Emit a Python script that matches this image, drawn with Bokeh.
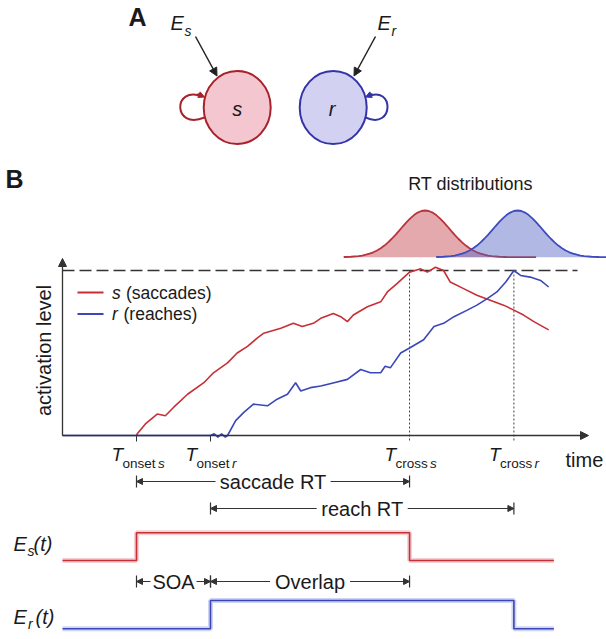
from bokeh.plotting import figure
from bokeh.models import Range1d, Arrow, NormalHead
from bokeh.core.properties import value
from bokeh.embed import file_html
from bokeh.resources import INLINE
import math

# ---------------- data (times in ms, activation in threshold units) ----------------
T_ONSET_S = 100
T_ONSET_R = 200
T_CROSS_S = 469
T_CROSS_R = 610
THRESHOLD = 1.0

sacc_t = [100, 101, 112, 128, 139, 150, 169, 191, 204, 223, 236, 250, 263, 272, 295, 312, 324, 339, 349, 366,
          376, 385, 393, 412, 430, 439, 452, 469, 484, 493, 504, 515, 524, 542, 560, 578, 596, 610, 623, 637, 657]
sacc_a = [0, 0.01, 0.07, 0.13, 0.12, 0.17, 0.25, 0.32, 0.38, 0.44, 0.50, 0.54, 0.59, 0.62, 0.65, 0.68, 0.66, 0.68, 0.71, 0.74,
          0.72, 0.69, 0.73, 0.78, 0.81, 0.87, 0.92, 0.99, 1.01, 0.99, 1.02, 1.00, 0.93, 0.89, 0.85, 0.82, 0.79, 0.76, 0.73, 0.69, 0.64]

reach_t = [0, 200, 205, 210, 215, 220, 223, 234, 245, 258, 277, 290, 304, 315, 322, 335, 349, 367, 385, 403,
           416, 430, 436, 443, 457, 469, 488, 502, 515, 529, 547, 560, 574, 587, 599, 610, 619, 632, 646, 657]
reach_a = [0, 0, 0.01, -0.01, 0.01, -0.01, 0, 0.09, 0.14, 0.19, 0.18, 0.22, 0.25, 0.32, 0.27, 0.29, 0.30, 0.32, 0.34, 0.40,
           0.38, 0.38, 0.42, 0.41, 0.50, 0.53, 0.58, 0.66, 0.68, 0.72, 0.76, 0.79, 0.83, 0.87, 0.93, 1.00, 0.97, 0.96, 0.94, 0.90]

# RT distributions: relative density vs offset from the mean (ms)
rt_offset = [-110, -100, -90, -85, -80, -75, -70, -65, -60, -55, -50, -45, -40, -35, -30, -25, -20, -15, -10, -5, 0,
             5, 10, 15, 20, 25, 30, 35, 40, 45, 50, 55, 60, 65, 70, 75, 80, 85, 90, 100, 110, 120, 130, 140, 150]
rt_density = [0.004, 0.010, 0.024, 0.036, 0.053, 0.076, 0.105, 0.144, 0.192, 0.249, 0.317, 0.395, 0.480, 0.570, 0.662,
              0.751, 0.832, 0.902, 0.955, 0.989, 1.0,
              0.989, 0.955, 0.902, 0.832, 0.751, 0.662, 0.570, 0.480, 0.395, 0.317, 0.249, 0.192, 0.144, 0.105,
              0.076, 0.053, 0.036, 0.024, 0.010, 0.004, 0.001, 0.0, 0.0, 0.0]
rt_mean_sacc = 490
rt_mean_reach = 615
rt_span_sacc = (-110, 150)
rt_span_reach = (-110, 120)

# Input step signals E_s(t), E_r(t)
e_trace_end = 664
es_t = [0, T_ONSET_S, T_ONSET_S, T_CROSS_S, T_CROSS_S, e_trace_end]
es_v = [0, 0, 1, 1, 0, 0]
er_t = [0, T_ONSET_R, T_ONSET_R, T_CROSS_R, T_CROSS_R, e_trace_end]
er_v = [0, 0, 1, 1, 0, 0]

# ---------------- layout / style ----------------
FONT = value("Liberation Sans")
INK = "#1a1a1a"
AX = "#333333"
RED = "#c62f36"
BLUE = "#3a47b8"

W, H = 606, 639
ORIGIN_PX = 62.0     # page x of t = 0
PX_PER_MS = 0.74
BASE_PX, ACT_PX = 435.0, 165.0   # page y of activation 0, px per unit

def ms(px):
    return (px - ORIGIN_PX) / PX_PER_MS

p = figure(width=W, height=H, x_range=Range1d(0, W), y_range=Range1d(H, 0),
           output_backend="svg", toolbar_location=None, min_border=0,
           x_axis_location=None, y_axis_location=None)
p.grid.visible = False
p.outline_line_color = None
p.background_fill_color = "white"

p.extra_x_ranges = {"ms": Range1d(ms(0), ms(W))}
p.extra_y_ranges = {
    "act": Range1d((BASE_PX - H) / ACT_PX, BASE_PX / ACT_PX),
    "rt": Range1d((256.7 - H) / 46.7, 256.7 / 46.7),
    "es": Range1d((560 - H) / 27.7, 560 / 27.7),
    "er": Range1d((628.3 - H) / 28.3, 628.3 / 28.3),
}

def txt(x, y, s, size, style="normal", align="left", color=INK, xr="default", yr="default",
        angle=0.0, xo=0, yo=0):
    p.text(x=[x], y=[y], text=[s], text_font=FONT, text_font_size=value(f"{size}px"),
           text_font_style=value(style), text_align=value(align), text_baseline=value("middle"),
           text_color=color, angle=angle, x_offset=xo, y_offset=yo,
           x_range_name=xr, y_range_name=yr)

def arrow(x0, y0, x1, y1, xr="default", yr="default", size=7, color=AX, lw=1.2):
    p.add_layout(Arrow(end=NormalHead(size=size, fill_color=color, line_color=color, line_width=1),
                       x_start=x0, y_start=y0, x_end=x1, y_end=y1, line_color=color,
                       line_width=lw, x_range_name=xr, y_range_name=yr))

# ---------------- panel A ----------------
txt(128, 16, "A", 25, "bold")
p.ellipse(x=[236.7], y=[107], width=67, height=73, fill_color="#f4c6cf", line_color="#a8222c", line_width=2)
p.ellipse(x=[332.7], y=[107], width=67, height=73, fill_color="#d3d1f2", line_color="#3434a8", line_width=2)
txt(236.7, 108, "s", 20, "italic", "center")
txt(331.5, 108, "r", 20, "italic", "center")
# external inputs
arrow(195, 36, 216.5, 75.5, size=8, color="#222", lw=1.5)
arrow(375, 36, 353.5, 75.5, size=8, color="#222", lw=1.5)
txt(170, 22, "E", 20, "italic")
txt(184, 30, "s", 14, "italic")
txt(377, 22, "E", 20, "italic")
txt(391, 30, "r", 14, "italic")
# self-excitation loops
p.bezier(x0=[204], y0=[117], x1=[202], y1=[96], cx0=[172], cy0=[130], cx1=[172], cy1=[84],
         line_color="#a8222c", line_width=2)
arrow(197, 93.5, 204, 96.5, size=6, color="#a8222c", lw=2)
p.bezier(x0=[365], y0=[117], x1=[367], y1=[96], cx0=[394], cy0=[130], cx1=[394], cy1=[84],
         line_color="#3434a8", line_width=2)
arrow(372, 93.5, 365, 96.5, size=6, color="#3434a8", lw=2)

# ---------------- panel B ----------------
txt(5, 178, "B", 25, "bold")
txt(470, 183, "RT distributions", 18, "normal", "center")

def rt_curve(mean, span, fill, line):
    xs = [mean + o for o in rt_offset if span[0] <= o <= span[1]]
    ys = [d for o, d in zip(rt_offset, rt_density) if span[0] <= o <= span[1]]
    p.varea(x=xs, y1=[0] * len(xs), y2=ys, fill_color=fill, fill_alpha=0.45,
            x_range_name="ms", y_range_name="rt")
    p.line(xs, ys, line_color=line, line_width=1.8, x_range_name="ms", y_range_name="rt")

rt_curve(rt_mean_sacc, rt_span_sacc, "#c0404a", "#b9343c")
rt_curve(rt_mean_reach, rt_span_reach, "#5262c4", "#3e4cc0")

# threshold
p.line([0, ms(577)], [THRESHOLD, THRESHOLD], line_color=AX, line_width=1.3, line_dash="12 5",
       x_range_name="ms", y_range_name="act")
# crossing guides and ticks
tick_low = -6 / ACT_PX
p.segment(x0=[T_CROSS_S, T_CROSS_R], y0=[THRESHOLD] * 2, x1=[T_CROSS_S, T_CROSS_R], y1=[tick_low] * 2,
          line_color="#444", line_width=1, line_dash="2 2", x_range_name="ms", y_range_name="act")
p.segment(x0=[T_ONSET_S, T_ONSET_R], y0=[0, 0], x1=[T_ONSET_S, T_ONSET_R], y1=[tick_low] * 2,
          line_color=AX, line_width=1, x_range_name="ms", y_range_name="act")
# axes with arrow heads
arrow(0, 0, ms(588), 0, xr="ms", yr="act", size=8, lw=1.3)
arrow(0, 0, 0, (BASE_PX - 258) / ACT_PX, xr="ms", yr="act", size=8, lw=1.3)

# activation traces
p.line(sacc_t, sacc_a, line_color=RED, line_width=1.6, x_range_name="ms", y_range_name="act")
p.line(reach_t, reach_a, line_color=BLUE, line_width=1.6, x_range_name="ms", y_range_name="act")

# legend
p.segment(x0=[77, 77], y0=[292, 313.5], x1=[103, 103], y1=[292, 313.5], line_color=[RED, BLUE], line_width=1.8)
txt(111.5, 292, "s", 17.5, "italic")
txt(125.5, 292, "(saccades)", 17.5)
txt(111.5, 313.5, "r", 17.5, "italic")
txt(123, 313.5, "(reaches)", 17.5)

txt(43, 350, "activation level", 20, "normal", "center", angle=math.pi / 2)
txt(565, 459, "time", 20)

# event labels T_onset s, T_onset r, T_cross s, T_cross r
for t_ev, word, letter, lx in [(T_ONSET_S, "onset", "s", 35.5), (T_ONSET_R, "onset", "r", 35.5),
                               (T_CROSS_S, "cross", "s", 34.5), (T_CROSS_R, "cross", "r", 34.5)]:
    txt(t_ev, 454, "T", 19, "italic", xr="ms", xo=-25)
    txt(t_ev, 463, word, 13.5, xr="ms", xo=-14)
    txt(t_ev, 463, letter, 13.5, "italic", xr="ms", xo=-14 + lx)

# ---------------- interval annotations ----------------
def tick_bar(t, y):
    p.segment(x0=[t], y0=[y - 6], x1=[t], y1=[y + 6], line_color=AX, line_width=1.2, x_range_name="ms")

def interval(t0, t1, y, label, text_w_px, pad=5):
    mid = (t0 + t1) / 2
    half = (text_w_px / 2 + pad) / PX_PER_MS
    tick_bar(t0, y)
    tick_bar(t1, y)
    arrow(mid - half, y, t0, y, xr="ms", size=6, lw=1.1)
    arrow(mid + half, y, t1, y, xr="ms", size=6, lw=1.1)
    txt(mid, y, label, 20, "normal", "center", xr="ms")

interval(T_ONSET_S, T_CROSS_S, 481, "saccade RT", 105)
interval(T_ONSET_R, T_CROSS_R, 508, "reach RT", 81)
interval(T_ONSET_S, T_ONSET_R, 581, "SOA", 42, pad=2)
interval(T_ONSET_R, T_CROSS_S, 581, "Overlap", 70)

# ---------------- input signals ----------------
p.line(es_t, es_v, line_color="#e39aa0", line_width=5, line_alpha=0.45, x_range_name="ms", y_range_name="es")
p.line(es_t, es_v, line_color=RED, line_width=1.6, x_range_name="ms", y_range_name="es")
p.line(er_t, er_v, line_color="#9aa2e0", line_width=5, line_alpha=0.45, x_range_name="ms", y_range_name="er")
p.line(er_t, er_v, line_color=BLUE, line_width=1.6, x_range_name="ms", y_range_name="er")

txt(13, 543, "E", 20, "italic")
txt(27, 550, "s", 14, "italic")
txt(33, 543, "(t)", 20, "italic")
txt(13, 616, "E", 20, "italic")
txt(27.5, 623, "r", 14, "italic")
txt(35, 616, "(t)", 20, "italic")

open("out.html", "w").write(file_html(p, INLINE))
